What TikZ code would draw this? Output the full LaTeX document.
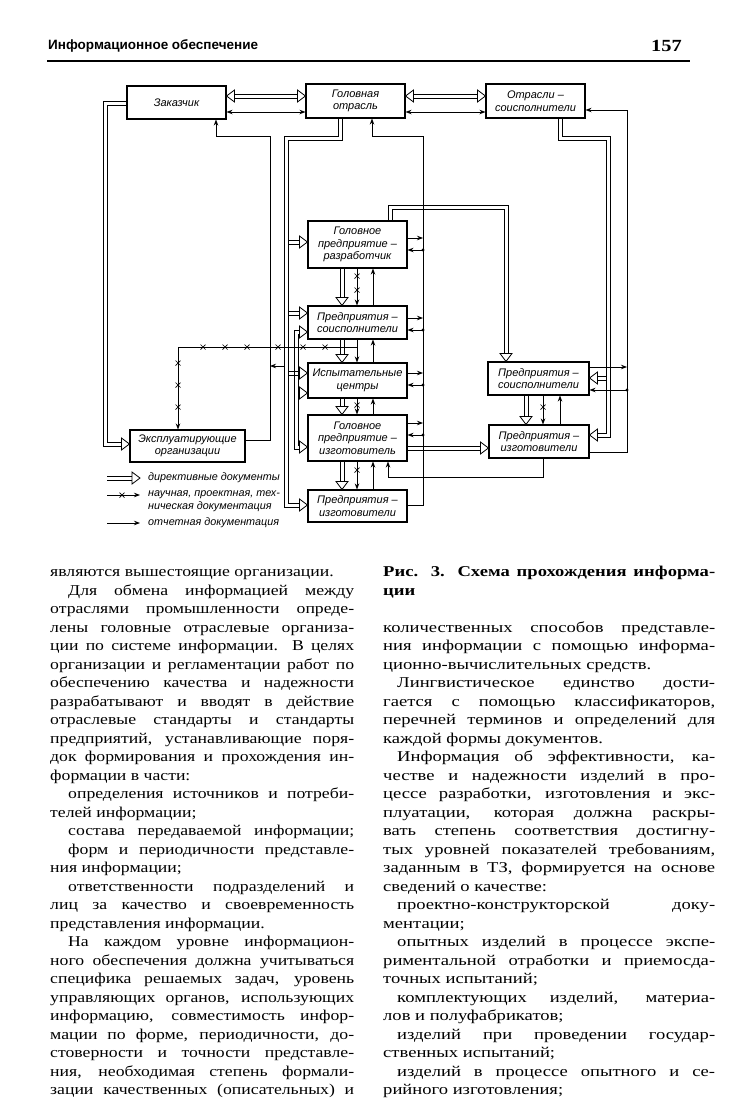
\documentclass[tikz,border=0pt]{standalone}
\usepackage{fontspec}
\setmainfont{Liberation Serif}[FakeStretch=1.2]
\newfontfamily\lfont{Liberation Serif}[FakeStretch=1.18]
\newfontfamily\rfont{Liberation Serif}[FakeStretch=1.24]
\newfontfamily\diafont{Liberation Sans}
\newfontfamily\hdfont{Liberation Sans}
\usetikzlibrary{arrows.meta,calc}
\tikzset{
  bx/.style={draw, line width=1.1pt, fill=white, inner sep=1pt, align=center,
    font=\diafont\itshape\fontsize{11}{12.5}\selectfont},
  tl/.style={line width=0.8pt},
  arr/.style={-{Stealth[length=6pt,width=4.5pt]}},
  barr/.style={{Stealth[length=6pt,width=4.5pt]}-{Stealth[length=6pt,width=4.5pt]}},
  txtl/.style={anchor=base west, inner sep=0pt, font=\lfont\fontsize{15}{18}\selectfont},
  txtr/.style={anchor=base west, inner sep=0pt, font=\rfont\fontsize{15}{18}\selectfont},
  lg/.style={anchor=west, inner sep=0pt, align=left, font=\diafont\itshape\fontsize{10.8}{12.5}\selectfont},
  hhR/.pic={\draw[line width=0.8pt, fill=white] (0,0) -- (-8,6) -- (-8,-6) -- cycle;},
  hhL/.pic={\draw[line width=0.8pt, fill=white] (0,0) -- (8,6) -- (8,-6) -- cycle;},
  hhD/.pic={\draw[line width=0.8pt, fill=white] (0,0) -- (-6,-8) -- (6,-8) -- cycle;},
  xm/.pic={\draw[line width=0.7pt] (-2.5,-2.5) -- (2.5,2.5) (-2.5,2.5) -- (2.5,-2.5);},
}
\newcommand\tLj[2]{\node[txtl] (l#1) at (50,{576.5+18.5*#1}) {\makebox[304pt][s]{#2}};}
\newcommand\tLi[2]{\node[txtl] (l#1) at (68,{576.5+18.5*#1}) {\makebox[286pt][s]{#2}};}
\newcommand\tLn[2]{\node[txtl] (l#1) at (50,{576.5+18.5*#1}) {#2};}
\newcommand\tRj[2]{\node[txtr] (r#1) at (383,{576.5+18.5*#1}) {\makebox[332pt][s]{#2}};}
\newcommand\tRi[2]{\node[txtr] (r#1) at (397,{576.5+18.5*#1}) {\makebox[318pt][s]{#2}};}
\newcommand\tRn[2]{\node[txtr] (r#1) at (383,{576.5+18.5*#1}) {#2};}
\begin{document}
\begin{tikzpicture}[x=1pt,y=-1pt]
\useasboundingbox (0,0) rectangle (741,1106);
\fill[white] (0,0) rectangle (741,1106);
% header
\node[anchor=base west, inner sep=0pt, font=\hdfont\bfseries\fontsize{13.5}{15}\selectfont] (hdr) at (48,49) {Информационное обеспечение};
\node[anchor=base east, inner sep=0pt, font=\bfseries\fontsize{17}{18}\selectfont] (pg) at (682,51) {157};
\coordinate (rl1) at (47,61);
\coordinate (rl2) at (690,61);
\draw[line width=1.2pt] (rl1) -- (rl2);
% boxes
\node[bx, minimum width=99pt, minimum height=33pt] (zak) at (176.5,102.5) {Заказчик};
\node[bx, minimum width=99pt, minimum height=34pt] (gotr) at (355.5,101) {Головная\\отрасль};
\node[bx, minimum width=99pt, minimum height=34pt] (osoi) at (535.5,101) {Отрасли –\\соисполнители};
\node[bx, minimum width=99pt, minimum height=47pt] (raz) at (357.5,244.5) {Головное\\предприятие –\\разработчик};
\node[bx, minimum width=99pt, minimum height=33pt] (soi) at (357.5,322.5) {Предприятия –\\соисполнители};
\node[bx, minimum width=99pt, minimum height=35pt] (isp) at (357.5,380.5) {Испытательные\\центры};
\node[bx, minimum width=99pt, minimum height=46pt] (izg) at (357.5,438) {Головное\\предприятие –\\изготовитель};
\node[bx, minimum width=99pt, minimum height=32pt] (izgs) at (357.5,506) {Предприятия –\\изготовители};
\node[bx, minimum width=115pt, minimum height=32pt] (eks) at (187.5,446) {Эксплуатирующие\\организации};
\node[bx, minimum width=101pt, minimum height=33pt] (rsoi) at (538.5,378.5) {Предприятия –\\соисполнители};
\node[bx, minimum width=100pt, minimum height=33pt] (rizg) at (539,441.5) {Предприятия –\\изготовители};
% legend
\coordinate (la1) at (107,478); \coordinate (la2) at (140,478); \coordinate (la3) at (132,478);
\coordinate (lb1) at (107,495); \coordinate (lb2) at (140,495);
\coordinate (lc1) at (107,523); \coordinate (lc2) at (140,523);
\node[lg] (lt1) at (148,478) {директивные документы};
\node[lg] (lt2) at (148,501) {научная, проектная, тех-\\ническая документация};
\node[lg] (lt3) at (148,523) {отчетная документация};
\coordinate (tapA) at (284,366);
% shaft end points (bases of the hollow heads)
\coordinate (e1) at ($(zak.east|-0,96)+(8,0)$);
\coordinate (e2) at ($(gotr.west|-0,96)+(-8,0)$);
\coordinate (e3) at ($(gotr.east|-0,96)+(8,0)$);
\coordinate (e4) at ($(osoi.west|-0,96)+(-8,0)$);
\coordinate (e5) at ($(eks.west|-0,444)+(-8,0)$);
\coordinate (e6) at ($(izgs.west|-0,505)+(-8,0)$);
\coordinate (e7) at ($(raz.west|-0,242)+(-8,0)$);
\coordinate (e8) at ($(soi.west|-0,313)+(-8,0)$);
\coordinate (e9) at ($(isp.west|-0,373)+(-8,0)$);
\coordinate (e10) at ($(soi.west|-0,332)+(-8,0)$);
\coordinate (e11) at ($(izg.west|-0,447)+(-8,0)$);
\coordinate (e12) at ($(isp.west|-0,393)+(-8,0)$);
\coordinate (e13) at ($(soi.north-|342,0)+(0,-8)$);
\coordinate (e14) at ($(isp.north-|342,0)+(0,-8)$);
\coordinate (e15) at ($(izg.north-|342,0)+(0,-8)$);
\coordinate (e16) at ($(izgs.north-|342,0)+(0,-8)$);
\coordinate (e17) at ($(rsoi.north-|506,0)+(0,-8)$);
\coordinate (e18) at ($(rizg.west|-0,448)+(-8,0)$);
\coordinate (e19) at ($(rizg.east|-0,435)+(8,0)$);
\coordinate (e20) at ($(rsoi.east|-0,378)+(8,0)$);
\coordinate (e21) at ($(rizg.north-|526,0)+(0,-8)$);
% double (directive) lines, drawn as two parallel strokes
\draw[tl]
  (e1|-0,94) -- (e2|-0,94)  (e1|-0,98) -- (e2|-0,98)
  (e3|-0,94) -- (e4|-0,94)  (e3|-0,98) -- (e4|-0,98)
  (zak.west|-0,101) -- (103,101) -- (103,446) -- (e5|-0,446)
  (zak.west|-0,105) -- (107,105) -- (107,442) -- (e5|-0,442)
  (gotr.south-|342,0) -- (342,140) -- (288,140) -- (288,503) -- (e6|-0,503)
  (gotr.south-|338,0) -- (338,136) -- (284,136) -- (284,507) -- (e6|-0,507)
  (288,240) -- (e7|-0,240)  (288,244) -- (e7|-0,244)
  (288,311) -- (e8|-0,311)  (288,315) -- (e8|-0,315)
  (288,371) -- (e9|-0,371)  (288,375) -- (e9|-0,375)
  (e10|-0,330) -- (294,330) -- (294,449) -- (e11|-0,449)
  (e10|-0,334) -- (298,334) -- (298,445) -- (e11|-0,445)
  (298,391) -- (e12|-0,391)  (298,395) -- (e12|-0,395)
  (raz.south-|340,0) -- (e13-|340,0)  (raz.south-|344,0) -- (e13-|344,0)
  (soi.south-|340,0) -- (e14-|340,0)  (soi.south-|344,0) -- (e14-|344,0)
  (isp.south-|340,0) -- (e15-|340,0)  (isp.south-|344,0) -- (e15-|344,0)
  (izg.south-|340,0) -- (e16-|340,0)  (izg.south-|344,0) -- (e16-|344,0)
  (raz.north-|388,0) -- (388,205) -- (508,205) -- (e17-|508,0)
  (raz.north-|392,0) -- (392,209) -- (504,209) -- (e17-|504,0)
  (izg.east|-0,446) -- (e18|-0,446)  (izg.east|-0,450) -- (e18|-0,450)
  (osoi.south-|558,0) -- (558,140) -- (606,140) -- (606,433) -- (e19|-0,433)
  (osoi.south-|562,0) -- (562,136) -- (610,136) -- (610,437) -- (e19|-0,437)
  (606,376) -- (e20|-0,376)  (606,380) -- (e20|-0,380)
  (rsoi.south-|524,0) -- (e21-|524,0)  (rsoi.south-|528,0) -- (e21-|528,0)
  (la1|-0,476) -- (la3|-0,476)  (la1|-0,480) -- (la3|-0,480);
\foreach \p in {(gotr.west|-0,96),(osoi.west|-0,96),(eks.west|-0,444),(izgs.west|-0,505),
  (raz.west|-0,242),(soi.west|-0,313),(isp.west|-0,373),(soi.west|-0,332),(izg.west|-0,447),
  (isp.west|-0,393),(rizg.west|-0,448),(la2)} \pic at \p {hhR};
\foreach \p in {(zak.east|-0,96),(gotr.east|-0,96),(rizg.east|-0,435),(rsoi.east|-0,378)} \pic at \p {hhL};
\foreach \p in {(soi.north-|342,0),(isp.north-|342,0),(izg.north-|342,0),(izgs.north-|342,0),
  (rsoi.north-|506,0),(rizg.north-|526,0)} \pic at \p {hhD};
% reporting lines
\draw[tl,barr] (zak.east|-0,112) -- (gotr.west|-0,112);
\draw[tl,barr] (gotr.east|-0,112) -- (osoi.west|-0,112);
\draw[tl,arr] (rizg.east|-0,452) -- (627,452) -- (627,110) -- (osoi.east|-0,110);
\draw[tl,arr] (rsoi.east|-0,367) -- (627,367);
\draw[tl,arr] (627,390) -- (rsoi.east|-0,390);
\fill (627,390) circle[radius=1.7pt];
\draw[tl,arr] (eks.east|-0,440) -- (270,440) -- (270,136) -- (216,136) -- (zak.south-|216,0);
\draw[tl,arr] (tapA) -- (270,366);
\draw[tl,arr] (izgs.east|-0,505) -- (423,505) -- (423,136) -- (372,136) -- (gotr.south-|372,0);
\draw[tl,arr] (raz.east|-0,238) -- (423,238);
\draw[tl,arr] (423,250) -- (raz.east|-0,250);
\draw[tl,arr] (soi.east|-0,318) -- (423,318);
\draw[tl,arr] (423,330) -- (soi.east|-0,330);
\draw[tl,arr] (isp.east|-0,373) -- (423,373);
\draw[tl,arr] (423,385) -- (isp.east|-0,385);
\draw[tl,arr] (izg.east|-0,423) -- (423,423);
\draw[tl,arr] (423,435) -- (izg.east|-0,435);
\foreach \y in {250,330,385,435} \fill (423,\y) circle[radius=1.7pt];
\draw[tl,arr] (rizg.south-|543,0) -- (543,477) -- (388,477) -- (izg.south-|388,0);
% central column
\draw[tl,arr] (raz.south-|357,0) -- (soi.north-|357,0);
\draw[tl,arr] (soi.north-|373,0) -- (raz.south-|373,0);
\draw[tl,arr] (soi.south-|357,0) -- (isp.north-|357,0);
\draw[tl,arr] (isp.north-|373,0) -- (soi.south-|373,0);
\draw[tl,arr] (isp.south-|357,0) -- (izg.north-|357,0);
\draw[tl,arr] (izg.north-|373,0) -- (isp.south-|373,0);
\draw[tl,arr] (izg.south-|357,0) -- (izgs.north-|357,0);
\draw[tl,arr] (izgs.north-|373,0) -- (izg.south-|373,0);
\draw[tl,arr] (rsoi.south-|543,0) -- (rizg.north-|543,0);
\draw[tl,arr] (rizg.north-|560,0) -- (rsoi.south-|560,0);
% x-line to operators
\draw[tl,arr] (soi.south-|357,0) -- (357,347) -- (178,347) -- (eks.north-|178,0);
\foreach \p in {(203,347),(225,347),(247,347),(278,347),(303,347),(325,347),
  (178,363),(178,385),(178,407),(357,276),(357,290),(357,405),(357,470),(543,407),(122,495)}
  \pic at \p {xm};
% legend lines
\draw[tl,arr] (lb1) -- (lb2);
\draw[tl,arr] (lc1) -- (lc2);
% left column text
\tLn{0}{являются вышестоящие организации.}
\tLi{1}{Для обмена информацией между}
\tLj{2}{отраслями промышленности опреде-}
\tLj{3}{лены головные отраслевые организа-}
\tLj{4}{ции по системе информации. В целях}
\tLj{5}{организации и регламентации работ по}
\tLj{6}{обеспечению качества и надежности}
\tLj{7}{разрабатывают и вводят в действие}
\tLj{8}{отраслевые стандарты и стандарты}
\tLj{9}{предприятий, устанавливающие поря-}
\tLj{10}{док формирования и прохождения ин-}
\tLn{11}{формации в части:}
\tLi{12}{определения источников и потреби-}
\tLn{13}{телей информации;}
\tLi{14}{состава передаваемой информации;}
\tLi{15}{форм и периодичности представле-}
\tLn{16}{ния информации;}
\tLi{17}{ответственности подразделений и}
\tLj{18}{лиц за качество и своевременность}
\tLn{19}{представления информации.}
\tLi{20}{На каждом уровне информацион-}
\tLj{21}{ного обеспечения должна учитываться}
\tLj{22}{специфика решаемых задач, уровень}
\tLj{23}{управляющих органов, использующих}
\tLj{24}{информацию, совместимость инфор-}
\tLj{25}{мации по форме, периодичности, до-}
\tLj{26}{стоверности и точности представле-}
\tLj{27}{ния, необходимая степень формали-}
\tLj{28}{зации качественных (описательных) и}
% right column text
\tRj{0}{\bfseries Рис. 3. Схема прохождения информа-}
\tRn{1}{\bfseries ции}
\tRj{3}{количественных способов представле-}
\tRj{4}{ния информации с помощью информа-}
\tRn{5}{ционно-вычислительных средств.}
\tRi{6}{Лингвистическое единство дости-}
\tRj{7}{гается с помощью классификаторов,}
\tRj{8}{перечней терминов и определений для}
\tRn{9}{каждой формы документов.}
\tRi{10}{Информация об эффективности, ка-}
\tRj{11}{честве и надежности изделий в про-}
\tRj{12}{цессе разработки, изготовления и экс-}
\tRj{13}{плуатации, которая должна раскры-}
\tRj{14}{вать степень соответствия достигну-}
\tRj{15}{тых уровней показателей требованиям,}
\tRj{16}{заданным в ТЗ, формируется на основе}
\tRn{17}{сведений о качестве:}
\tRi{18}{проектно-конструкторской доку-}
\tRn{19}{ментации;}
\tRi{20}{опытных изделий в процессе экспе-}
\tRj{21}{риментальной отработки и приемосда-}
\tRn{22}{точных испытаний;}
\tRi{23}{комплектующих изделий, материа-}
\tRn{24}{лов и полуфабрикатов;}
\tRi{25}{изделий при проведении государ-}
\tRn{26}{ственных испытаний;}
\tRi{27}{изделий в процессе опытного и се-}
\tRn{28}{рийного изготовления;}
\end{tikzpicture}
\end{document}
